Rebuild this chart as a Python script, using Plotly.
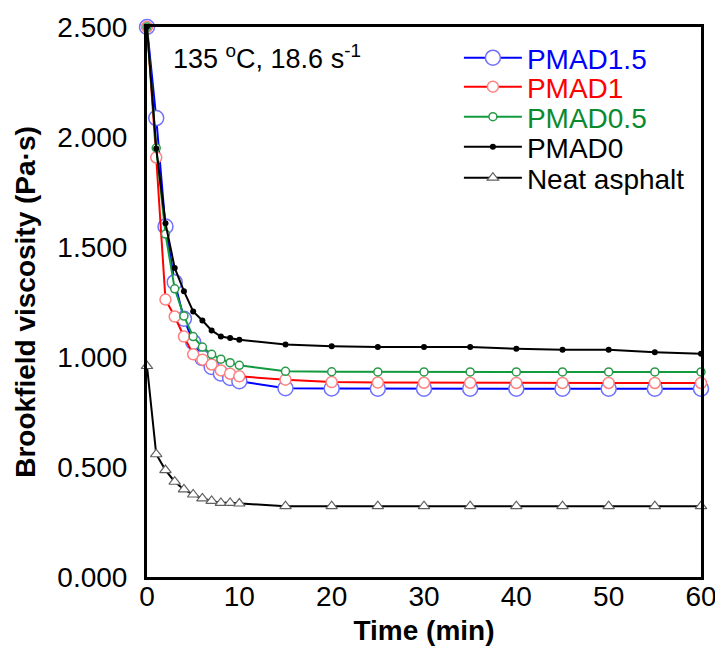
import plotly.graph_objects as go

time = [0, 1, 2, 3, 4, 5, 6, 7, 8, 9, 10, 15, 20, 25, 30, 35, 40, 45, 50, 55, 60]

pmad15 = [2.500, 2.086, 1.593, 1.340, 1.174, 1.068, 0.995, 0.955, 0.925, 0.905, 0.890,
          0.858, 0.857, 0.856, 0.856, 0.856, 0.856, 0.856, 0.856, 0.856, 0.856]
pmad1 = [2.500, 1.907, 1.261, 1.184, 1.093, 1.012, 0.988, 0.966, 0.939, 0.924, 0.912,
         0.897, 0.886, 0.884, 0.883, 0.883, 0.882, 0.882, 0.882, 0.882, 0.882]
pmad05 = [2.500, 1.950, 1.559, 1.310, 1.186, 1.093, 1.045, 1.012, 0.990, 0.974, 0.962,
          0.935, 0.933, 0.932, 0.932, 0.932, 0.932, 0.932, 0.932, 0.932, 0.932]
pmad0 = [2.500, 1.948, 1.608, 1.405, 1.299, 1.207, 1.166, 1.121, 1.093, 1.086, 1.078,
         1.057, 1.049, 1.045, 1.045, 1.045, 1.037, 1.033, 1.033, 1.022, 1.015]
neat = [0.959, 0.558, 0.486, 0.433, 0.398, 0.375, 0.357, 0.346, 0.337, 0.337, 0.334,
        0.322, 0.322, 0.322, 0.322, 0.322, 0.322, 0.322, 0.322, 0.322, 0.322]

FONT = "Arial, Liberation Sans, sans-serif"
FS = 28

series = [
    ("PMAD1.5", pmad15, "#0000ff", "#0000ff", dict(symbol="circle", size=15, color="white", line=dict(color="#7070ff", width=1.5))),
    ("PMAD1", pmad1, "#ff0000", "#ff0000", dict(symbol="circle", size=11, color="white", line=dict(color="#ff8080", width=1.5))),
    ("PMAD0.5", pmad05, "#129a3e", "#0a8a2e", dict(symbol="circle", size=8, color="white", line=dict(color="#2a9a4a", width=1.5))),
    ("PMAD0", pmad0, "#000000", "#000000", dict(symbol="circle", size=6, color="black", line=dict(color="black", width=0))),
    ("Neat asphalt", neat, "#000000", "#000000", dict(symbol="triangle-up", size=10, color="white", line=dict(color="#606060", width=1.2))),
]

legend_rows = [58, 87, 117, 147, 178]  # pixel centres of legend rows
PLOT_TOP, PLOT_BOTTOM = 27, 577
LEG_X = 0.563

fig = go.Figure()
layout_legends = {}
for i, (name, vals, lc, tc, mk) in enumerate(series):
    key = "legend" if i == 0 else f"legend{i+1}"
    fig.add_trace(go.Scatter(
        x=time, y=vals, mode="lines+markers",
        name=f"<span style='color:{tc}'>{name}</span>",
        line=dict(color=lc, width=2),
        marker=mk, cliponaxis=False, legend=key,
    ))
    ypos = (PLOT_BOTTOM - legend_rows[i]) / (PLOT_BOTTOM - PLOT_TOP)
    layout_legends[key] = dict(x=LEG_X, y=ypos, xanchor="left", yanchor="middle",
                               bgcolor="rgba(0,0,0,0)", borderwidth=0, itemwidth=58,
                               font=dict(size=FS, family=FONT))

fig.update_layout(
    width=715, height=657,
    margin=dict(l=147, r=14, t=27, b=80, autoexpand=False),
    paper_bgcolor="white", plot_bgcolor="white",
    font=dict(family=FONT, size=FS, color="black"),
    showlegend=True,
    **layout_legends,
    xaxis=dict(range=[0, 60], dtick=10, tick0=0, showgrid=False, zeroline=False,
               showline=True, linecolor="black", linewidth=3, mirror=True,
               ticks="", tickfont=dict(size=FS, family=FONT),
               ticklabeloverflow="allow", ticklabelstandoff=-8,
               title=dict(text="<b>Time (min)</b>", font=dict(size=FS, family=FONT), standoff=10)),
    yaxis=dict(range=[0, 2.5], dtick=0.5, tick0=0, tickformat=".3f", showgrid=False, zeroline=False,
               showline=True, linecolor="black", linewidth=3, mirror=True,
               ticks="outside", ticklen=11, tickcolor="rgba(0,0,0,0)",
               tickfont=dict(size=FS, family=FONT),
               title=dict(text="<b>Brookfield viscosity (Pa·s)</b>", font=dict(size=FS, family=FONT), standoff=14)),
    annotations=[dict(text="135 <sup>o</sup>C, 18.6 s<sup>-1</sup>", x=0.043, y=0.945,
                      xref="paper", yref="paper", xanchor="left", yanchor="middle",
                      showarrow=False, font=dict(size=27, family=FONT))],
)

fig.write_html("out.html", config={"displayModeBar": False},
               post_script="document.body.style.margin='0';")
